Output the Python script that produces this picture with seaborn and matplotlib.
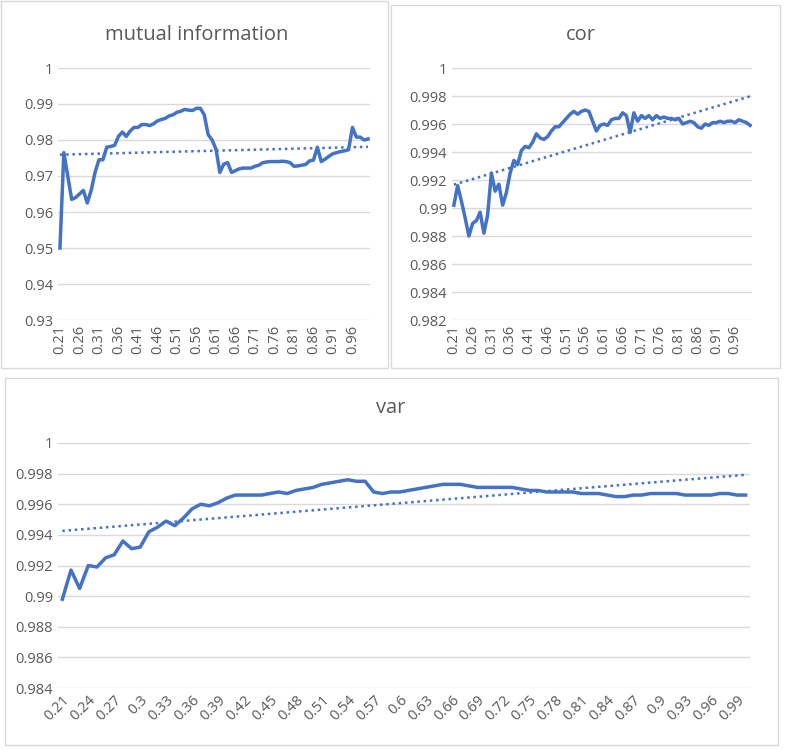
import numpy as np
import pandas as pd
import matplotlib
matplotlib.use("Agg")
import matplotlib.pyplot as plt
import seaborn as sns
from matplotlib.patches import Rectangle

thresholds = [f"{v/100:g}" for v in range(21, 101)]

mutual_information = [0.950, 0.9765, 0.970, 0.9635, 0.964, 0.965, 0.966, 0.9625, 0.966, 0.971,
    0.9745, 0.9745, 0.978, 0.9782, 0.9785, 0.981, 0.9822, 0.981, 0.9825, 0.9835,
    0.9835, 0.9843, 0.9843, 0.984, 0.9845, 0.9853, 0.9857, 0.986, 0.9867, 0.987,
    0.9877, 0.988, 0.9885, 0.9883, 0.9882, 0.9888, 0.9888, 0.987, 0.9815, 0.980,
    0.9775, 0.971, 0.9733, 0.9737, 0.971, 0.9715, 0.972, 0.9722, 0.9722, 0.9722,
    0.9727, 0.973, 0.9737, 0.9739, 0.974, 0.974, 0.974, 0.9741, 0.974, 0.9737,
    0.9727, 0.9728, 0.973, 0.9732, 0.9742, 0.9744, 0.978, 0.974, 0.9747, 0.9755,
    0.9762, 0.9765, 0.9768, 0.977, 0.9773, 0.9835, 0.9808, 0.9808, 0.980, 0.9803]

cor = [0.9902, 0.9916, 0.9905, 0.9893, 0.9880, 0.9889, 0.9891, 0.9897, 0.9882, 0.9895,
    0.9925, 0.9912, 0.9917, 0.9902, 0.9911, 0.9925, 0.9934, 0.9931, 0.9941, 0.9944,
    0.9943, 0.9947, 0.9953, 0.9950, 0.9949, 0.9951, 0.9955, 0.9958, 0.9958, 0.9961,
    0.9964, 0.9967, 0.9969, 0.9967, 0.9969, 0.9970, 0.9969, 0.9962, 0.9955, 0.9959,
    0.9960, 0.9959, 0.9963, 0.9964, 0.9964, 0.9968, 0.9966, 0.9954, 0.9968, 0.9962,
    0.9966, 0.9964, 0.9966, 0.9963, 0.9966, 0.9964, 0.9965, 0.9964, 0.9964, 0.9963,
    0.9964, 0.9960, 0.9961, 0.9962, 0.9961, 0.9958, 0.9957, 0.9960, 0.9959, 0.9961,
    0.9961, 0.9962, 0.9961, 0.9962, 0.9962, 0.9961, 0.9963, 0.9962, 0.9961, 0.9959]

var = [0.9898, 0.9917, 0.9905, 0.9920, 0.9919, 0.9925, 0.9927, 0.9936, 0.9931, 0.9932,
    0.9942, 0.9945, 0.9949, 0.9946, 0.9951, 0.9957, 0.9960, 0.9959, 0.9961, 0.9964,
    0.9966, 0.9966, 0.9966, 0.9966, 0.9967, 0.9968, 0.9967, 0.9969, 0.9970, 0.9971,
    0.9973, 0.9974, 0.9975, 0.9976, 0.9975, 0.9975, 0.9968, 0.9967, 0.9968, 0.9968,
    0.9969, 0.9970, 0.9971, 0.9972, 0.9973, 0.9973, 0.9973, 0.9972, 0.9971, 0.9971,
    0.9971, 0.9971, 0.9971, 0.9970, 0.9969, 0.9969, 0.9968, 0.9968, 0.9968, 0.9968,
    0.9967, 0.9967, 0.9967, 0.9966, 0.9965, 0.9965, 0.9966, 0.9966, 0.9967, 0.9967,
    0.9967, 0.9967, 0.9966, 0.9966, 0.9966, 0.9966, 0.9967, 0.9967, 0.9966, 0.9966]

plt.rcParams["font.family"] = "Open Sans"
BLUE = "#4472C4"
GRAY = "#595959"

fig = plt.figure(figsize=(7.85, 7.49), dpi=100)
W, H = 785, 749
for (x0, y0, x1, y1) in [(1, 1, 388, 368), (391, 5, 780, 368), (5, 378, 778, 745)]:
    fig.patches.append(Rectangle((x0 / W, 1 - y1 / H), (x1 - x0) / W, (y1 - y0) / H,
                                 transform=fig.transFigure, fill=False, ec="#d9d9d9", lw=1))

def panel(rect, vals, title, ylim, ystep, fmt, tickstep, rot, title_x, title_y):
    ax = fig.add_axes(rect)
    df = pd.DataFrame({"i": np.arange(len(vals)), "v": vals})
    sns.lineplot(data=df, x="i", y="v", ax=ax, color=BLUE, lw=2.5)
    a, b = np.polyfit(df["i"], df["v"], 1)
    sns.lineplot(x=df["i"], y=a * df["i"] + b, ax=ax, color=BLUE, lw=1.8, linestyle=(0, (1, 1.5)))
    ax.set_ylim(*ylim)
    yt = np.arange(ylim[0], ylim[1] + ystep / 2, ystep)
    ax.set_yticks(yt)
    ax.set_yticklabels([fmt(t) for t in yt])
    idx = list(range(0, len(vals), tickstep))
    ax.set_xticks(idx)
    ax.set_xticklabels([thresholds[i] for i in idx], rotation=rot,
                       ha="center" if rot == 90 else "right", rotation_mode="anchor" if rot != 90 else "default")
    ax.set_xlim(-0.5, len(vals) - 0.5)
    ax.set_xlabel(""); ax.set_ylabel("")
    for s in ax.spines.values():
        s.set_visible(False)
    ax.grid(axis="y", color="#d9d9d9", lw=1)
    ax.set_axisbelow(True)
    ax.tick_params(length=0, colors=GRAY, labelsize=10.5)
    fig.text(title_x, title_y, title, ha="center", va="center", fontsize=14.5, color=GRAY)
    return ax

def f_mi(t):
    return "1" if abs(t - 1) < 1e-9 else f"{t:.2f}"

def f_c(t):
    return "1" if abs(t - 1) < 1e-9 else f"{t:.3f}".rstrip("0")

panel([58 / W, 1 - 320 / H, 312 / W, 252 / H], mutual_information, "mutual information",
      (0.93, 1.0), 0.01, f_mi, 5, 90, 197 / W, 1 - 35 / H)
panel([452 / W, 1 - 320 / H, 300 / W, 252 / H], cor, "cor",
      (0.982, 1.0), 0.002, f_c, 5, 90, 581 / W, 1 - 35 / H)
panel([58 / W, 1 - 688 / H, 692 / W, 245 / H], var, "var",
      (0.984, 1.0), 0.002, f_c, 3, 45, 391 / W, 1 - 408 / H)

fig.savefig("out.png", dpi=100)
